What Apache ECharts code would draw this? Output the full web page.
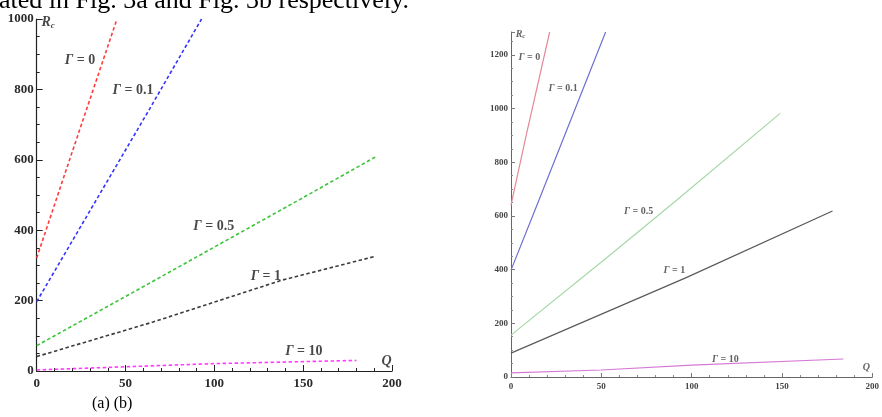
<!DOCTYPE html>
<html>
<head>
<meta charset="utf-8">
<script src="https://cdn.jsdelivr.net/npm/echarts@6/dist/echarts.min.js"></script>
<style>
html,body{margin:0;padding:0;background:#fff;}
#chart{width:882px;height:417px;}
</style>
</head>
<body>
<div id="chart"></div>
<script>
// ---------- data (Q, R_c) ----------
// Panel (a): dashed curves
const gamma0A  = [[0, 321], [18.5, 600], [45, 997]];
const gamma01A = [[0, 197], [63.5, 744], [92.8, 1000]];
const gamma05A = [[0, 72], [63.7, 250], [148, 487], [191, 609]];
const gamma1A  = [[0, 41], [65.4, 139], [138, 258], [190, 325]];
const gamma10A = [[0, 3], [50, 12], [100, 21], [180, 30]];
// Panel (b): solid curves
const gamma0B  = [[0, 640], [8.4, 900], [21.4, 1285]];
const gamma01B = [[0, 398], [15.5, 659], [52.4, 1285]];
const gamma05B = [[0, 156], [54, 450], [92, 660], [149, 982]];
const gamma1B  = [[0, 89], [97, 370], [178, 618]];
const gamma10B = [[0, 15], [50, 26], [100, 44], [184, 67]];
// curve labels
const gammaNames = ['0', '0.1', '0.5', '1', '10'];
const labelPosA = [[24.4, 883], [54.2, 798], [99.7, 412], [129, 270], [150.4, 57]];
const labelPosB = [[10.2, 1192], [28.9, 1076], [70.6, 618], [90.4, 398], [118.7, 67]];
// axis ranges / ticks
const xTicks = [0, 50, 100, 150, 200];
const yTicksA = [0, 200, 400, 600, 800, 1000];
const yTicksB = [0, 200, 400, 600, 800, 1000, 1200];
const topText = 'ated in Fig. 3a and Fig. 3b respectively.';
const captionText = '(a) (b)';

const serif = "'Liberation Serif', 'DejaVu Serif', serif";
const colorsA = ['#ff3b3b', '#3535ff', '#3cc43c', '#3c3c3c', '#ff3cff'];
const colorsB = ['#e2899a', '#6f6fd2', '#a6d8a6', '#5a5a5a', '#d479d4'];
const seriesA = [gamma0A, gamma01A, gamma05A, gamma1A, gamma10A];
const seriesB = [gamma0B, gamma01B, gamma05B, gamma1B, gamma10B];

function gLabel(name) {
  return '{g|Γ}{t| = ' + name + '}';
}
function richFor(size, color) {
  return {
    g: {fontFamily: serif, fontStyle: 'italic', fontWeight: 'bold', fontSize: size, color: color},
    t: {fontFamily: serif, fontWeight: 'bold', fontSize: size, color: color},
    r: {fontFamily: serif, fontStyle: 'italic', fontWeight: 'bold', fontSize: size, color: color},
    s: {fontFamily: serif, fontStyle: 'italic', fontWeight: 'bold', fontSize: Math.round(size*0.65), color: color, padding: [Math.round(size*0.45), 0, 0, 0]},
    q: {fontFamily: serif, fontStyle: 'italic', fontWeight: 'bold', fontSize: size, color: color}
  };
}

function makeAxisX(gridIndex, big) {
  return {
    type: 'value', gridIndex: gridIndex, min: 0, max: 200, interval: 50,
    axisLine: {lineStyle: {color: big ? '#222' : '#666', width: big ? 1.2 : 1}},
    axisTick: {inside: true, length: big ? 6 : 4, lineStyle: {color: big ? '#222' : '#777', width: 1}},
    minorTick: {show: true, splitNumber: 5, length: big ? 3 : 2, lineStyle: {color: big ? '#222' : '#888'}},
    splitLine: {show: false},
    axisLabel: {
      fontFamily: serif, fontWeight: 'bold', fontSize: big ? 13 : 9,
      color: big ? '#2a2a2a' : '#444', margin: big ? 6 : 5,
      formatter: v => xTicks.indexOf(v) >= 0 ? String(v) : ''
    }
  };
}
function makeAxisY(gridIndex, big, max, ticks) {
  return {
    type: 'value', gridIndex: gridIndex, min: 0, max: max, interval: 200,
    axisLine: {lineStyle: {color: big ? '#222' : '#666', width: big ? 1.2 : 1}},
    axisTick: {inside: true, length: big ? 6 : 4, lineStyle: {color: big ? '#222' : '#777', width: 1}},
    minorTick: {show: true, splitNumber: 4, length: big ? 3 : 2, lineStyle: {color: big ? '#222' : '#888'}},
    splitLine: {show: false},
    axisLabel: {
      fontFamily: serif, fontWeight: 'bold', fontSize: big ? 13 : 9,
      color: big ? '#2a2a2a' : '#444', margin: 3,
      formatter: v => ticks.indexOf(v) >= 0 ? String(v) : ''
    }
  };
}

const series = [];
seriesA.forEach((d, i) => series.push({
  type: 'line', xAxisIndex: 0, yAxisIndex: 0, data: d, showSymbol: false, symbol: 'none',
  clip: true, silent: true,
  lineStyle: {color: colorsA[i], width: 1.6, type: [3.5, 2.5]}
}));
seriesB.forEach((d, i) => series.push({
  type: 'line', xAxisIndex: 1, yAxisIndex: 1, data: d, showSymbol: false, symbol: 'none',
  clip: true, silent: true,
  lineStyle: {color: colorsB[i], width: 1.2}
}));

function labelSeries(xi, pos, size, color, extra) {
  const data = pos.map((p, i) => ({value: p, label: {formatter: gLabel(gammaNames[i])}}));
  extra.forEach(e => data.push(e));
  return {
    type: 'scatter', xAxisIndex: xi, yAxisIndex: xi, symbolSize: 0, silent: true, z: 5,
    data: data,
    label: {show: true, position: 'inside', rich: richFor(size, color)}
  };
}
series.push(labelSeries(0, labelPosA, 14, '#1a1a1a', [
  {value: [6.4, 989], label: {formatter: '{r|R}{s|c}'}},
  {value: [197, 26], label: {formatter: '{q|Q}'}}
]));
series.push(labelSeries(1, labelPosB, 10, '#3a3a3a', [
  {value: [5.3, 1277], label: {formatter: '{r|R}{s|c}'}},
  {value: [196.8, 34], label: {formatter: '{q|Q}'}}
]));

const chart = echarts.init(document.getElementById('chart'), null, {renderer: 'canvas'});
chart.setOption({
  animation: false,
  backgroundColor: '#ffffff',
  grid: [
    {left: 36.7, top: 19, width: 355.3, height: 352},
    {left: 511, top: 32, width: 374, height: 345}
  ],
  xAxis: [makeAxisX(0, true), makeAxisX(1, false)],
  yAxis: [makeAxisY(0, true, 1000, yTicksA), makeAxisY(1, false, 1285, yTicksB)],
  series: series,
  graphic: [
    {type: 'text', left: -1, top: -12, style: {text: topText, font: "26px 'Liberation Serif'", fill: '#000'}},
    {type: 'text', left: 92, top: 396, style: {text: captionText, font: "16px 'Liberation Serif'", fill: '#000'}}
  ]
});
</script>
</body>
</html>
